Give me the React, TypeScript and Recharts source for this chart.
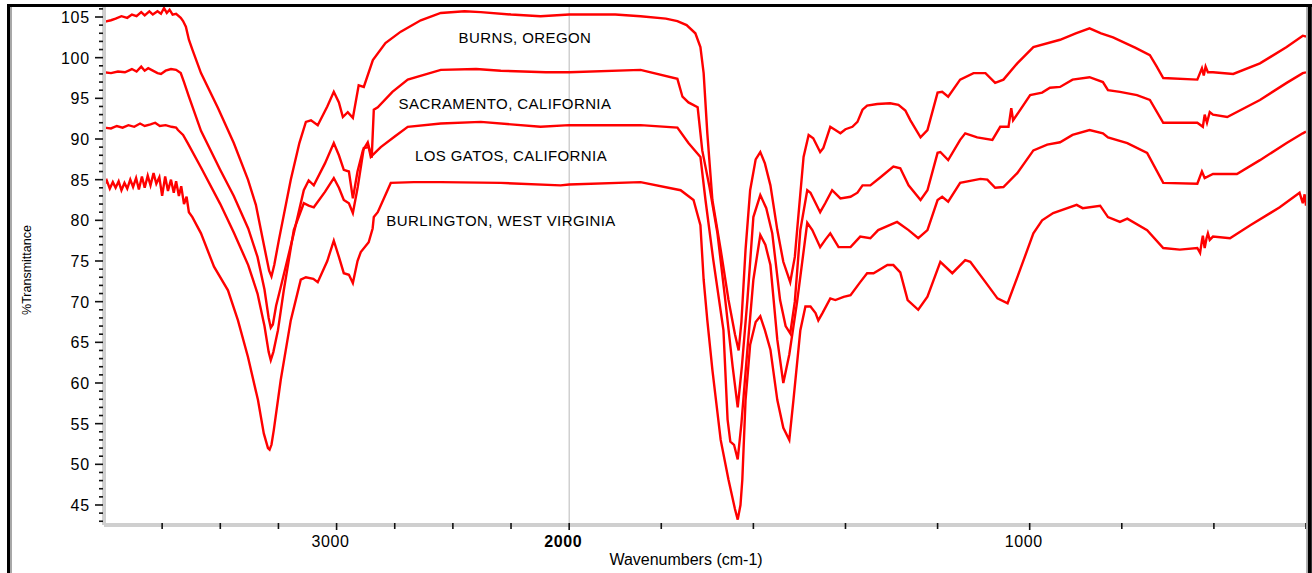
import React from "react";
import {
  LineChart,
  Line,
  XAxis,
  YAxis,
  ReferenceLine,
  ReferenceDot,
} from "recharts";

// [wavenumber cm-1, %T] pairs
const burns: [number, number][] = [
  [4000, 104.4], [3970, 104.6], [3950, 104.8], [3925, 105.1], [3900, 104.9], [3880, 105.3],
  [3860, 105.1], [3840, 105.6], [3825, 105.2], [3805, 105.7], [3790, 105.3], [3770, 105.7],
  [3755, 105.4], [3742, 106.1], [3730, 105.5], [3718, 105.9], [3705, 105.3], [3690, 105.4],
  [3670, 104.9], [3660, 104.5], [3648, 103.8], [3635, 102.2], [3620, 101.0], [3583, 98.1],
  [3510, 93.8], [3442, 89.5], [3381, 85.0], [3347, 81.9], [3317, 77.6], [3290, 73.8],
  [3280, 73.1], [3268, 74.5], [3248, 77.6], [3197, 85.0], [3160, 89.5], [3132, 92.1],
  [3110, 92.3], [3081, 91.7], [3040, 94.0], [3012, 95.8], [2990, 94.5], [2973, 92.7],
  [2952, 93.3], [2930, 92.6], [2905, 96.6], [2883, 96.4], [2844, 99.7], [2790, 101.8],
  [2724, 103.2], [2638, 104.6], [2552, 105.5], [2450, 105.7], [2380, 105.6], [2250, 105.3],
  [2123, 105.1], [2000, 105.3], [1900, 105.3], [1845, 105.1], [1790, 104.8], [1765, 104.5],
  [1745, 104.0], [1726, 103.0], [1715, 101.3], [1708, 98.1], [1700, 90.7], [1689, 82.5],
  [1671, 76.4], [1654, 70.2], [1640, 66.0], [1632, 64.0], [1626, 67.5], [1617, 76.4],
  [1607, 83.7], [1595, 87.5], [1585, 88.4], [1575, 87.0], [1563, 84.3], [1548, 78.8],
  [1535, 74.9], [1520, 72.4], [1510, 75.5], [1505, 78.8], [1491, 87.8], [1480, 90.5],
  [1470, 90.1], [1455, 88.4], [1448, 88.9], [1433, 91.5], [1422, 91.1], [1411, 90.7],
  [1400, 91.2], [1385, 91.5], [1374, 92.1], [1363, 93.6], [1353, 94.1], [1331, 94.3],
  [1303, 94.4], [1285, 94.2], [1270, 93.5], [1259, 92.3], [1237, 90.2], [1222, 91.1],
  [1200, 95.7], [1190, 95.8], [1177, 95.2], [1151, 97.3], [1122, 98.1], [1096, 98.1],
  [1075, 96.9], [1057, 97.3], [1027, 99.3], [992, 101.3], [934, 102.2], [900, 103.0],
  [870, 103.6], [845, 103.0], [819, 102.5], [770, 101.2], [739, 100.3], [725, 99.0],
  [710, 97.5], [636, 97.3], [626, 98.7], [622, 97.8], [618, 98.9], [613, 98.2],
  [602, 98.2], [558, 98.0], [500, 99.3], [442, 101.3], [407, 102.7], [400, 102.6],
];

const sacramento: [number, number][] = [
  [4000, 98.2], [3970, 98.1], [3940, 98.3], [3910, 98.2], [3880, 98.6], [3860, 98.3],
  [3840, 98.9], [3825, 98.4], [3810, 98.7], [3790, 98.4], [3770, 98.1], [3755, 98.0],
  [3735, 98.4], [3712, 98.6], [3690, 98.5], [3670, 98.1], [3656, 97.0], [3635, 95.2],
  [3583, 91.0], [3500, 86.2], [3442, 83.0], [3380, 79.0], [3340, 75.5], [3310, 71.5],
  [3292, 68.0], [3283, 66.8], [3274, 67.2], [3260, 69.5], [3240, 71.8], [3184, 78.4],
  [3141, 83.7], [3120, 84.9], [3098, 84.3], [3050, 87.0], [3012, 89.5], [2990, 88.0],
  [2969, 86.2], [2947, 86.0], [2930, 82.7], [2910, 86.0], [2887, 88.6], [2866, 89.6],
  [2849, 87.7], [2840, 93.6], [2823, 93.9], [2760, 95.8], [2694, 97.3], [2552, 98.5],
  [2400, 98.6], [2294, 98.4], [2100, 98.2], [2000, 98.2], [1845, 98.5], [1765, 97.4],
  [1754, 95.2], [1741, 94.5], [1721, 93.9], [1711, 88.6], [1695, 84.0], [1678, 78.4],
  [1661, 70.2], [1645, 62.0], [1634, 57.0], [1625, 62.0], [1613, 70.2], [1600, 80.4],
  [1585, 83.1], [1572, 81.5], [1559, 78.4], [1542, 70.2], [1530, 67.0], [1520, 66.1],
  [1510, 70.0], [1498, 78.8], [1483, 83.7], [1476, 83.4], [1455, 81.0], [1444, 82.1],
  [1429, 83.7], [1411, 82.7], [1389, 82.9], [1374, 83.4], [1363, 84.3], [1346, 84.3],
  [1324, 85.3], [1296, 86.6], [1281, 86.4], [1263, 84.3], [1237, 82.5], [1222, 83.7],
  [1200, 88.3], [1194, 88.4], [1177, 87.4], [1151, 89.9], [1140, 90.7], [1114, 90.2],
  [1081, 89.9], [1064, 91.5], [1046, 91.5], [1040, 93.8], [1036, 92.3], [999, 95.4],
  [973, 95.7], [956, 96.3], [934, 96.4], [907, 97.3], [870, 97.6], [841, 97.0],
  [830, 96.0], [804, 95.8], [767, 95.4], [739, 94.8], [710, 92.0], [636, 92.0],
  [624, 91.5], [620, 93.0], [615, 92.0], [609, 93.3], [602, 93.0], [571, 92.7],
  [500, 94.8], [442, 96.9], [407, 98.1], [400, 98.2],
];

const losGatos: [number, number][] = [
  [4000, 91.4], [3970, 91.3], [3945, 91.6], [3920, 91.4], [3895, 91.7], [3870, 91.5],
  [3845, 91.9], [3825, 91.6], [3800, 91.8], [3780, 92.0], [3760, 91.6], [3735, 91.7],
  [3710, 91.5], [3690, 91.4], [3682, 91.1], [3660, 90.5], [3640, 89.5], [3583, 86.5],
  [3500, 82.0], [3442, 78.5], [3380, 74.5], [3340, 71.0], [3310, 67.0], [3292, 63.8],
  [3283, 62.8], [3272, 63.8], [3252, 66.5], [3227, 71.4], [3184, 78.8], [3141, 82.1],
  [3120, 81.8], [3098, 81.6], [3050, 83.5], [3012, 85.2], [2990, 84.0], [2969, 82.5],
  [2947, 82.1], [2930, 80.9], [2909, 84.1], [2883, 88.9], [2862, 89.0], [2853, 87.8],
  [2810, 89.0], [2750, 90.3], [2694, 91.5], [2552, 91.9], [2380, 92.1], [2250, 91.8],
  [2123, 91.5], [2000, 91.7], [1845, 91.7], [1765, 91.4], [1741, 89.5], [1715, 87.8],
  [1704, 82.5], [1687, 75.1], [1665, 66.5], [1656, 55.5], [1650, 52.8], [1642, 52.4],
  [1634, 50.6], [1626, 55.0], [1613, 64.1], [1600, 72.7], [1585, 78.2], [1574, 77.0],
  [1563, 74.5], [1548, 65.3], [1535, 60.0], [1522, 63.5], [1505, 70.0], [1483, 79.7],
  [1472, 78.8], [1455, 76.7], [1444, 77.6], [1433, 78.4], [1415, 76.7], [1389, 76.7],
  [1368, 78.0], [1346, 77.8], [1329, 78.8], [1288, 79.8], [1263, 78.8], [1242, 77.8],
  [1222, 78.8], [1200, 82.5], [1190, 82.9], [1177, 82.3], [1151, 84.6], [1107, 85.1],
  [1092, 85.0], [1075, 84.0], [1057, 84.1], [1027, 85.8], [992, 88.6], [962, 89.3],
  [934, 89.6], [907, 90.5], [870, 91.1], [841, 90.7], [830, 90.2], [788, 89.5],
  [745, 88.3], [710, 84.6], [636, 84.5], [626, 86.0], [620, 85.2], [602, 85.7],
  [550, 85.7], [500, 87.4], [442, 89.5], [407, 90.7], [400, 90.9],
];

const burlington: [number, number][] = [
  [4000, 84.3], [3988, 84.9], [3975, 83.9], [3962, 84.7], [3950, 84.0], [3937, 84.8],
  [3925, 83.7], [3912, 84.6], [3900, 83.9], [3887, 85.0], [3875, 84.1], [3862, 85.2],
  [3850, 83.8], [3837, 85.4], [3825, 84.0], [3812, 85.5], [3800, 84.3], [3787, 85.8],
  [3775, 84.5], [3762, 85.3], [3750, 83.0], [3737, 85.4], [3725, 83.6], [3712, 85.0],
  [3700, 83.4], [3690, 84.8], [3678, 83.0], [3668, 84.2], [3656, 82.0], [3645, 82.9],
  [3635, 81.0], [3620, 80.4], [3583, 78.4], [3527, 74.3], [3467, 71.4], [3424, 67.7],
  [3381, 63.2], [3338, 57.9], [3313, 53.8], [3295, 52.0], [3288, 51.8], [3280, 52.4],
  [3270, 54.2], [3240, 60.4], [3197, 67.7], [3154, 72.7], [3132, 73.0], [3100, 72.8],
  [3081, 72.4], [3040, 75.0], [3012, 77.5], [2990, 75.5], [2969, 73.5], [2947, 73.3],
  [2930, 72.3], [2910, 75.0], [2896, 76.1], [2862, 77.3], [2845, 79.0], [2840, 80.4],
  [2823, 81.0], [2767, 84.6], [2668, 84.7], [2552, 84.7], [2294, 84.6], [2037, 84.3],
  [2000, 84.4], [1845, 84.7], [1758, 83.7], [1730, 82.5], [1715, 79.4], [1708, 72.7],
  [1700, 67.7], [1689, 61.6], [1671, 53.0], [1654, 48.1], [1640, 44.5], [1634, 43.2],
  [1628, 45.0], [1624, 48.1], [1617, 57.9], [1607, 64.7], [1595, 67.5], [1585, 68.2],
  [1575, 66.5], [1563, 64.1], [1548, 57.9], [1535, 54.5], [1522, 53.0], [1513, 57.9],
  [1498, 66.5], [1487, 69.4], [1476, 69.4], [1465, 68.6], [1459, 67.7], [1450, 68.6],
  [1433, 70.4], [1422, 70.2], [1404, 70.6], [1389, 70.8], [1368, 72.4], [1353, 73.5],
  [1339, 73.5], [1309, 74.5], [1296, 74.5], [1281, 73.6], [1265, 70.2], [1242, 69.0],
  [1222, 70.6], [1194, 74.9], [1168, 73.5], [1140, 75.1], [1129, 74.9], [1096, 72.4],
  [1070, 70.4], [1048, 69.8], [1021, 73.9], [992, 78.4], [973, 80.0], [949, 80.9],
  [898, 81.9], [885, 81.5], [847, 81.8], [830, 80.4], [804, 79.8], [788, 80.2],
  [745, 78.8], [710, 76.6], [674, 76.4], [636, 76.6], [630, 76.0], [626, 77.5],
  [624, 78.1], [620, 76.6], [616, 77.8], [613, 78.4], [609, 77.6], [602, 78.0],
  [565, 77.8], [521, 79.4], [457, 81.6], [414, 83.4], [407, 82.1], [403, 83.2],
  [400, 81.8],
];

const xTicks = [3750, 3500, 3250, 3000, 2750, 2500, 2250, 2000, 1800, 1600, 1400, 1200, 1000, 800, 600, 400];
const xLabels = [3000, 2000, 1000];
const yTicks = Array.from({ length: 64 }, (_, i) => 43 + i);

const sampleLabels = [
  { name: "BURNS, OREGON", wn: 2190, t: 102.5 },
  { name: "SACRAMENTO, CALIFORNIA", wn: 2276, t: 94.4 },
  { name: "LOS GATOS, CALIFORNIA", wn: 2250, t: 88.0 },
  { name: "BURLINGTON, WEST VIRGINIA", wn: 2293, t: 80.0 },
];

// instrument plots 4000-2000 at half the scale of 2000-400
const STRETCH = 1.98;
const toAxis = (wn: number) => (wn >= 2000 ? 4000 - wn : 2000 + (2000 - wn) * STRETCH);
const fromAxis = (u: number) => (u <= 2000 ? 4000 - u : 2000 - (u - 2000) / STRETCH);

const toRows = (pts: [number, number][]) => pts.map(([wn, t]) => ({ u: toAxis(wn), t }));

const series = [burns, sacramento, losGatos, burlington].map(toRows);

const FONT = '"Liberation Sans", Arial, sans-serif';

const XTick = (props: any) => {
  const { x, y, payload } = props;
  const wn = Math.round(fromAxis(payload.value));
  const major = xLabels.includes(wn);
  return (
    <g>
      <line x1={x} x2={x} y1={y - 2} y2={y + (major ? 5 : 4)} stroke="#111" strokeWidth={1.6} />
      {major && (
        <text
          x={x - 6}
          y={y + 22}
          textAnchor="middle"
          fontSize={16}
          letterSpacing={0.6}
          fontWeight={wn === 2000 ? 700 : 400}
          fill="#000"
          fontFamily={FONT}
        >
          {wn}
        </text>
      )}
    </g>
  );
};

const YTick = (props: any) => {
  const { x, y, payload } = props;
  const v = payload.value;
  const major = v % 5 === 0;
  return (
    <g>
      <line x1={x - (major ? 9 : 5)} x2={x - 1} y1={y} y2={y} stroke="#111" strokeWidth={1.6} />
      {major && (
        <text x={x - 14} y={y + 6} textAnchor="end" fontSize={16} letterSpacing={0.8} fill="#000" fontFamily={FONT}>
          {v}
        </text>
      )}
    </g>
  );
};

export default function App() {
  return (
    <div
      style={{
        position: "fixed",
        left: 0,
        top: 0,
        width: 1312,
        height: 573,
        background: "#fff",
        fontFamily: FONT,
        overflow: "hidden",
      }}
    >
      <div style={{ position: "absolute", left: 0, top: 0 }}>
        <LineChart width={1312} height={573} margin={{ top: 7, right: 6, bottom: 0, left: 0 }}>
          <XAxis
            type="number"
            dataKey="u"
            domain={[0, toAxis(400)]}
            ticks={xTicks.map(toAxis)}
            interval={0}
            height={48}
            tickSize={0}
            tickMargin={0}
            tickLine={false}
            axisLine={{ stroke: "#cfcfcf", strokeWidth: 4 }}
            tick={(p: any) => <XTick {...p} />}
            allowDataOverflow
          />
          <YAxis
            type="number"
            domain={[42.54, 106.23]}
            ticks={yTicks}
            interval={0}
            width={104}
            tickSize={0}
            tickMargin={0}
            tickLine={false}
            axisLine={{ stroke: "#cfcfcf", strokeWidth: 4 }}
            tick={(p: any) => <YTick {...p} />}
            allowDataOverflow
          />
          <ReferenceLine x={toAxis(2000)} stroke="#b8b8b8" strokeWidth={1} />
          {series.map((rows, i) => (
            <Line
              key={i}
              data={rows}
              dataKey="t"
              type="linear"
              stroke="#ff0000"
              strokeWidth={2.4}
              dot={false}
              isAnimationActive={false}
            />
          ))}
          {sampleLabels.map((s) => (
            <ReferenceDot
              key={s.name}
              x={toAxis(s.wn)}
              y={s.t}
              r={1}
              fill="none"
              stroke="none"
              label={{
                value: s.name,
                position: "center",
                fill: "#000",
                fontSize: 15,
                letterSpacing: 0.4,
                fontFamily: FONT,
              }}
            />
          ))}
        </LineChart>
      </div>
      <svg
        width={1312}
        height={573}
        style={{ position: "absolute", left: 0, top: 0, pointerEvents: "none" }}
      >
        <text
          transform="translate(31,270) rotate(-90)"
          textAnchor="middle"
          fontSize={12.5}
          fill="#000"
          fontFamily={FONT}
        >
          %Transmittance
        </text>
        <text x={686} y={565} textAnchor="middle" fontSize={16} fill="#000" fontFamily={FONT}>
          Wavenumbers (cm-1)
        </text>
        <line x1={8.5} x2={8.5} y1={4} y2={573} stroke="#000" strokeWidth={3} />
        <line x1={11} x2={11} y1={6} y2={573} stroke="#a8a8a8" strokeWidth={2} />
        <line x1={7} x2={1312} y1={5.5} y2={5.5} stroke="#000" strokeWidth={3} />
        <line x1={1306.8} x2={1306.8} y1={7} y2={573} stroke="#b0b0b0" strokeWidth={1.5} />
        <line x1={1309.8} x2={1309.8} y1={4} y2={573} stroke="#000" strokeWidth={4} />
      </svg>
    </div>
  );
}
